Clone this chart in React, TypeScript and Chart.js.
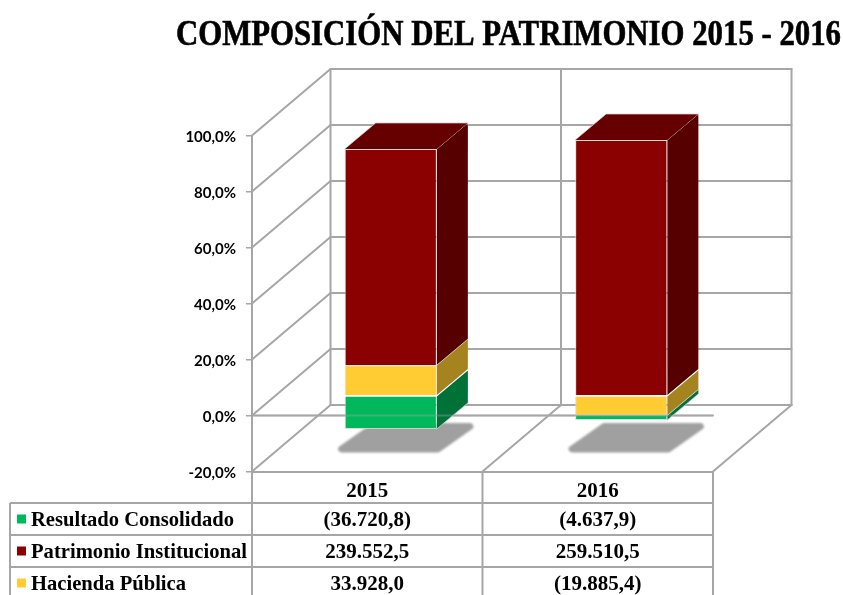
import React, { useEffect, useRef } from "react";
import { Chart, registerables } from "chart.js";

Chart.register(...registerables);

const TITLE = "COMPOSICIÓN DEL PATRIMONIO 2015 - 2016";
const years = ["2015", "2016"];
const seriesNames = ["Resultado Consolidado", "Patrimonio Institucional", "Hacienda Pública"];
const resultado = [-36720.8, -4637.9];
const patrimonio = [239552.5, 259510.5];
const hacienda = [33928.0, -19885.4];
const seriesValues = [resultado, patrimonio, hacienda];
const frontColors = ["#00b85c", "#8b0000", "#ffcc33"];
const sideColors = ["#007238", "#560000", "#a5831f"];
const topColor = "#660000";
const gridColor = "#a6a6a6";
const serif = "'Liberation Serif', serif";

const share = (series: number[]) =>
  series.map((v, i) => {
    const total = seriesValues.reduce((s, arr) => s + Math.abs(arr[i]), 0);
    return (v / total) * 100;
  });

const fmt = (v: number) => {
  const [a, b] = Math.abs(v).toFixed(1).split(".");
  const s = a.replace(/\B(?=(\d{3})+$)/g, ".") + "," + b;
  return v < 0 ? `(${s})` : s;
};

// projection: wall depth and where the bars sit within it
const WALL = { x: 78.5, y: -66.5 };
const BAR_OFFSET = { x: 23.5, y: -19.7 };
const BAR_DEPTH = { x: 31, y: -26 };
const TABLE = { left: 10, rowLines: [503, 535, 567], bottom: 595, markerX: 17, textX: 31 };
const labelWidths = [203, 216, 155];

const line = (ctx: CanvasRenderingContext2D, pts: number[][]) => {
  ctx.beginPath();
  pts.forEach(([x, y], i) => (i ? ctx.lineTo(x, y) : ctx.moveTo(x, y)));
  ctx.stroke();
};

const poly = (ctx: CanvasRenderingContext2D, pts: number[][], fill: string) => {
  ctx.beginPath();
  pts.forEach(([x, y], i) => (i ? ctx.lineTo(x, y) : ctx.moveTo(x, y)));
  ctx.closePath();
  ctx.fillStyle = fill;
  ctx.fill();
};

const threeD = {
  id: "threeD",
  beforeDatasetsDraw(chart: any) {
    const { ctx, chartArea: a, scales } = chart;
    const ys = scales.y;
    const xs = scales.x;
    const z0 = ys.getPixelForValue(0);
    const floor = ys.getPixelForValue(-20);
    const top = ys.getPixelForValue(100);
    const dividers = [a.left, (a.left + a.right) / 2, a.right];
    ctx.save();
    ctx.strokeStyle = gridColor;
    ctx.lineWidth = 2;
    ctx.lineCap = "round";
    // back wall and left wall
    ys.ticks.forEach((t: any) => {
      const y = ys.getPixelForValue(t.value);
      line(ctx, [
        [a.left, y],
        [a.left + WALL.x, y + WALL.y],
        [a.right + WALL.x, y + WALL.y],
      ]);
    });
    dividers.forEach((x) => {
      line(ctx, [
        [x + WALL.x, top + WALL.y],
        [x + WALL.x, floor + WALL.y],
      ]);
    });
    // floor
    dividers.slice(1).forEach((x) => {
      line(ctx, [
        [x, floor],
        [x + WALL.x, floor + WALL.y],
      ]);
    });
    // zero line
    line(ctx, [
      [a.left, z0],
      [a.right, z0],
    ]);

    // floor shadows
    const first = chart.getDatasetMeta(0).data;
    first.forEach((bar: any) => {
      const l = bar.x - bar.width / 2 + BAR_OFFSET.x;
      const r = bar.x + bar.width / 2 + BAR_OFFSET.x;
      const fy = floor - 19;
      const by = floor - 48.5;
      ctx.save();
      ctx.fillStyle = "#a0a0a0";
      ctx.strokeStyle = "#a0a0a0";
      ctx.lineWidth = 7;
      ctx.lineJoin = "round";
      ctx.filter = "blur(0.8px)";
      ctx.beginPath();
      ctx.moveTo(l - 3, fy - 3.5);
      ctx.lineTo(r + 1, fy - 3.5);
      ctx.lineTo(r + 33, by + 3.5);
      ctx.lineTo(l + 29, by + 3.5);
      ctx.closePath();
      ctx.fill();
      ctx.stroke();
      ctx.restore();
    });

    // side and top faces of the bars
    const metas = [2, 1, 0].map((i) => chart.getDatasetMeta(i));
    xs.ticks.forEach((_: any, c: number) => {
      let minY = Infinity;
      let bx = 0;
      let bw = 0;
      metas.forEach((m: any, k: number) => {
        const el = m.data[c];
        const r = el.x + el.width / 2 + BAR_OFFSET.x;
        const y1 = el.y + BAR_OFFSET.y;
        const y2 = el.base + BAR_OFFSET.y;
        poly(
          ctx,
          [
            [r, y1],
            [r + BAR_DEPTH.x, y1 + BAR_DEPTH.y],
            [r + BAR_DEPTH.x, y2 + BAR_DEPTH.y],
            [r, y2],
          ],
          sideColors[k]
        );
        ctx.strokeStyle = "rgba(215,215,215,0.75)";
        ctx.lineWidth = 1;
        line(ctx, [
          [r, y1],
          [r + BAR_DEPTH.x, y1 + BAR_DEPTH.y],
        ]);
        if (Math.min(y1, y2) < minY) {
          minY = Math.min(y1, y2);
          bx = el.x + BAR_OFFSET.x;
          bw = el.width;
        }
      });
      const l = bx - bw / 2;
      const r = bx + bw / 2;
      poly(
        ctx,
        [
          [l, minY],
          [l + BAR_DEPTH.x, minY + BAR_DEPTH.y],
          [r + BAR_DEPTH.x, minY + BAR_DEPTH.y],
          [r, minY],
        ],
        topColor
      );
      ctx.strokeStyle = "rgba(215,215,215,0.75)";
      ctx.lineWidth = 1;
      line(ctx, [
        [l, minY],
        [l + BAR_DEPTH.x, minY + BAR_DEPTH.y],
        [r + BAR_DEPTH.x, minY + BAR_DEPTH.y],
        [r + BAR_DEPTH.x, minY + BAR_DEPTH.y + 2],
      ]);
    });
    ctx.restore();
    // the front faces are drawn by the library, shifted into the depth of the box
    ctx.save();
    ctx.translate(BAR_OFFSET.x, BAR_OFFSET.y);
  },
  afterDatasetsDraw(chart: any) {
    const { ctx, chartArea: a, scales } = chart;
    ctx.restore();
    const z0 = scales.y.getPixelForValue(0);
    ctx.save();
    ctx.strokeStyle = "rgba(166,166,166,0.35)";
    ctx.lineWidth = 2;
    line(ctx, [
      [a.left, z0],
      [a.right, z0],
    ]);
    ctx.restore();
  },
  afterDraw(chart: any) {
    const { ctx, chartArea: a, scales } = chart;
    const { left, rowLines, bottom, markerX, textX } = TABLE;
    const mid = (a.left + a.right) / 2;
    ctx.save();
    // title
    ctx.fillStyle = "#000";
    ctx.strokeStyle = "#000";
    ctx.lineWidth = 0.6;
    ctx.font = `bold 35px ${serif}`;
    ctx.textAlign = "left";
    ctx.textBaseline = "alphabetic";
    ctx.fillText(TITLE, 176, 45, 665);
    ctx.strokeText(TITLE, 176, 45, 665);
    // table grid
    ctx.strokeStyle = gridColor;
    ctx.lineWidth = 2;
    rowLines.forEach((y) =>
      line(ctx, [
        [left, y],
        [a.right, y],
      ])
    );
    line(ctx, [
      [left, rowLines[0]],
      [left, bottom],
    ]);
    [a.left, mid, a.right].forEach((x) =>
      line(ctx, [
        [x, a.bottom],
        [x, bottom],
      ])
    );
    // rows
    ctx.textBaseline = "middle";
    seriesNames.forEach((name, r) => {
      const cy = (rowLines[r] + (rowLines[r + 1] ?? rowLines[r] + 32)) / 2;
      ctx.fillStyle = frontColors[r];
      ctx.fillRect(markerX, cy - 4.5, 9, 9);
      ctx.fillStyle = "#000";
      ctx.textAlign = "left";
      ctx.font = `bold 22px ${serif}`;
      ctx.fillText(name, textX, cy + 1.5, labelWidths[r]);
      ctx.textAlign = "center";
      ctx.font = `bold 21px ${serif}`;
      seriesValues[r].forEach((v, c) => {
        ctx.fillText(fmt(v), scales.x.getPixelForTick(c), cy + 1.5);
      });
    });
    ctx.restore();
  },
};

export default function App() {
  const ref = useRef<HTMLCanvasElement>(null);
  useEffect(() => {
    document.body.style.margin = "0";
    const chart = new Chart(ref.current!, {
      type: "bar",
      data: {
        labels: years,
        datasets: [2, 1, 0].map((i) => ({
          label: seriesNames[i],
          data: share(seriesValues[i]),
          backgroundColor: frontColors[i],
          borderColor: "rgba(215,215,215,0.85)",
          borderWidth: 1,
          barPercentage: 0.4,
          categoryPercentage: 1,
          clip: false as any,
        })),
      },
      options: {
        animation: false,
        responsive: false,
        layout: { padding: { top: 135.5, right: 130, left: 0, bottom: 0 } },
        plugins: { legend: { display: false }, title: { display: false }, tooltip: { enabled: false } },
        scales: {
          x: {
            stacked: true,
            afterFit: (s: any) => {
              s.height = 123.5;
            },
            grid: { display: false },
            border: { color: gridColor, width: 2 },
            ticks: { color: "#000", font: { family: serif, weight: "bold", size: 21 }, padding: -1, maxRotation: 0 },
          },
          y: {
            stacked: true,
            min: -20,
            max: 100,
            afterFit: (s: any) => {
              s.width = 252;
            },
            grid: { drawOnChartArea: false, color: gridColor, tickLength: 6, lineWidth: 1.5 },
            border: { color: gridColor, width: 2 },
            ticks: {
              stepSize: 20,
              padding: 10,
              labelOffset: 2,
              color: "#000",
              font: { family: "Lato", weight: "bold", size: 15 },
              callback: (v: any) => Number(v).toFixed(1).replace(".", ",") + "%",
            },
          },
        },
      },
      plugins: [threeD],
    } as any);
    return () => chart.destroy();
  }, []);
  return <canvas ref={ref} width={843} height={595} style={{ display: "block" }} />;
}
